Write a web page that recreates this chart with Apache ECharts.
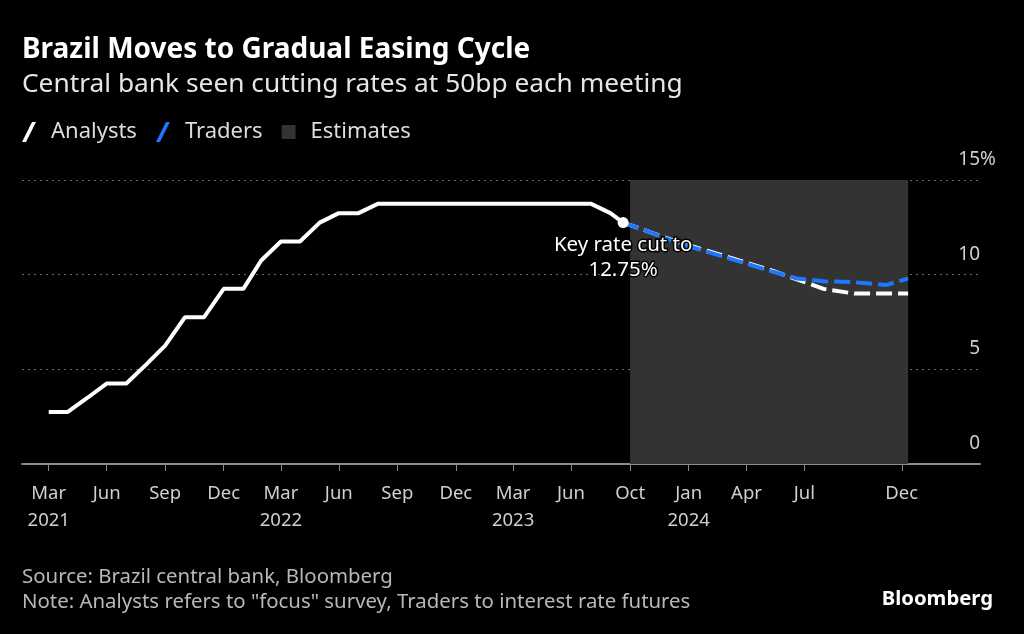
<!DOCTYPE html>
<html>
<head>
<meta charset="utf-8">
<script src="https://cdn.jsdelivr.net/npm/echarts@6/dist/echarts.min.js"></script>
<style>
  html, body { margin: 0; padding: 0; background: #000; }
  #chart { width: 1024px; height: 634px; }
</style>
</head>
<body>
<div id="chart"></div>
<script>
// ---- Data ----
const histDates = ['2021-03-31','2021-04-30','2021-05-31','2021-06-30','2021-07-31','2021-08-31','2021-09-30','2021-10-31','2021-11-30','2021-12-31',
  '2022-01-31','2022-02-28','2022-03-31','2022-04-30','2022-05-31','2022-06-30','2022-07-31','2022-08-31','2022-09-30','2022-10-31','2022-11-30','2022-12-31',
  '2023-01-31','2023-02-28','2023-03-31','2023-04-30','2023-05-31','2023-06-30','2023-07-31','2023-08-31','2023-09-20'];
const histValues = [2.75,2.75,3.5,4.25,4.25,5.25,6.25,7.75,7.75,9.25,
  9.25,10.75,11.75,11.75,12.75,13.25,13.25,13.75,13.75,13.75,13.75,13.75,
  13.75,13.75,13.75,13.75,13.75,13.75,13.75,13.25,12.75];

const meetingDates = ['2023-09-20','2023-11-01','2023-12-13','2024-01-31','2024-03-20','2024-05-08','2024-06-19','2024-07-31','2024-09-18','2024-11-06','2024-12-11'];
const analystsValues = [12.75,12.25,11.75,11.25,10.75,10.25,9.75,9.25,9.0,9.0,9.0];
const tradersValues  = [12.75,12.25,11.7,11.2,10.7,10.2,9.8,9.65,9.6,9.45,9.8];

const estimateStart = '2023-10-01';
const estimateEnd = '2024-12-11';

const xTickDates = ['2021-03-31','2021-06-30','2021-09-30','2021-12-31','2022-03-31','2022-06-30','2022-09-30','2022-12-31',
  '2023-03-31','2023-06-30','2023-10-01','2024-01-01','2024-04-01','2024-07-01','2024-12-01'];
const xTickLabels = ['Mar\n2021','Jun','Sep','Dec','Mar\n2022','Jun','Sep','Dec','Mar\n2023','Jun','Oct','Jan\n2024','Apr','Jul','Dec'];
const yTicks = [0, 5, 10, 15];

const annotationText = 'Key rate cut to\n12.75%';

// ---- Build ----
const t = s => Date.parse(s);
const labelMap = {};
xTickDates.forEach((d, i) => { labelMap[t(d)] = xTickLabels[i]; });

const FONT = 'Noto Sans';

const histData = histDates.map((d, i) => {
  const item = { value: [t(d), histValues[i]] };
  if (i === histDates.length - 1) {
    item.symbol = 'circle';
    item.symbolSize = 11;
    item.label = {
      show: true, position: 'bottom', distance: 5,
      formatter: annotationText,
      color: '#fff', fontSize: 20.5, lineHeight: 25, align: 'center',
      fontFamily: FONT,
      textBorderColor: '#000', textBorderWidth: 3
    };
  }
  return item;
});
const analystsData = meetingDates.map((d, i) => [t(d), analystsValues[i]]);
const tradersData = meetingDates.map((d, i) => [t(d), tradersValues[i]]);

const chart = echarts.init(document.getElementById('chart'), null, { renderer: 'canvas' });

const slant = 'path://M10,0 L14,0 L4,20 L0,20 Z';
const square = 'path://M0,3 L14,3 L14,17 L0,17 Z';

const option = {
  backgroundColor: '#000',
  animation: false,
  textStyle: { fontFamily: FONT },
  title: [
    { text: 'Brazil Moves to Gradual Easing Cycle', left: 22, top: 33, padding: 0,
      textStyle: { color: '#fff', fontSize: 28, fontWeight: 'bold', lineHeight: 34, fontFamily: FONT } },
    { text: 'Central bank seen cutting rates at 50bp each meeting', left: 22, top: 69, padding: 0,
      textStyle: { color: '#e6e6e6', fontSize: 26.3, fontWeight: 'normal', lineHeight: 32, fontFamily: FONT } },
    { text: 'Source: Brazil central bank, Bloomberg', left: 22, top: 565, padding: 0,
      textStyle: { color: '#b8b8b8', fontSize: 20.4, fontWeight: 'normal', lineHeight: 25, fontFamily: FONT } },
    { text: 'Note: Analysts refers to "focus" survey, Traders to interest rate futures', left: 22, top: 590, padding: 0,
      textStyle: { color: '#b8b8b8', fontSize: 20.4, fontWeight: 'normal', lineHeight: 25, fontFamily: FONT } },
    { text: 'Bloomberg', right: 31, top: 587, padding: 0,
      textStyle: { color: '#fff', fontSize: 20.3, fontWeight: 'bold', lineHeight: 25, fontFamily: FONT } }
  ],
  legend: {
    left: 22, top: 121, padding: 0,
    itemWidth: 14, itemHeight: 20, itemGap: 19,
    textStyle: { color: '#ddd', fontSize: 22, fontFamily: FONT, padding: [0, 0, 0, 10] },
    itemStyle: { borderWidth: 0 },
    data: [
      { name: 'Analysts', icon: slant, itemStyle: { color: '#ffffff' } },
      { name: 'Traders', icon: slant, itemStyle: { color: '#1e78ff' } },
      { name: 'Estimates', icon: square, itemStyle: { color: '#333333' } }
    ],
    selectedMode: false
  },
  grid: { left: 22, right: 44, top: 180, bottom: 170, containLabel: false },
  xAxis: {
    type: 'value',
    min: Date.UTC(2021, 1, 17),
    max: Date.UTC(2025, 3, 3),
    axisLine: { show: true, lineStyle: { color: '#8a8a8a', width: 2 } },
    axisTick: { show: true, customValues: xTickDates.map(t), length: 7, lineStyle: { color: '#8a8a8a', width: 1 } },
    axisLabel: {
      customValues: xTickDates.map(t),
      formatter: v => labelMap[v] || '',
      color: '#cfcfcf', fontSize: 18.5, lineHeight: 27, margin: 16, fontFamily: FONT
    },
    splitLine: { show: false }
  },
  yAxis: {
    type: 'value', position: 'right',
    min: 0, max: 15, interval: 5,
    axisLine: { show: false },
    axisTick: { show: false },
    axisLabel: {
      inside: true, margin: 0, verticalAlign: 'bottom', padding: [0, 0, 11, 0],
      formatter: v => v === 15 ? '{n|15}{p|%}' : '{n|' + v + '}',
      rich: {
        n: { color: '#cfcfcf', fontSize: 19, fontFamily: FONT, align: 'left' },
        p: { color: '#cfcfcf', fontSize: 19, fontFamily: FONT, align: 'left', width: 0 }
      }
    },
    splitLine: { show: true, lineStyle: { color: '#6a6a6a', type: [2, 4], width: 1 } }
  },
  series: [
    {
      name: 'Estimates', type: 'line', data: [], z: -1,
      itemStyle: { color: '#333333' },
      markArea: {
        silent: true,
        itemStyle: { color: '#333333', opacity: 1 },
        data: [[{ xAxis: t(estimateStart), yAxis: 0 }, { xAxis: t(estimateEnd), yAxis: 15 }]]
      }
    },
    {
      name: 'Analysts', type: 'line', data: analystsData, showSymbol: false, z: 3,
      itemStyle: { color: '#ffffff' },
      lineStyle: { color: '#ffffff', width: 4, type: [16, 6] }
    },
    {
      name: 'Traders', type: 'line', data: tradersData, showSymbol: false, z: 4,
      itemStyle: { color: '#1e78ff' },
      lineStyle: { color: '#1e78ff', width: 4, type: [16, 6] }
    },
    {
      name: 'Key rate', type: 'line', data: histData, z: 5,
      symbol: 'none', showSymbol: true,
      itemStyle: { color: '#ffffff' },
      lineStyle: { color: '#ffffff', width: 4 }
    }
  ]
};
chart.setOption(option);
</script>
</body>
</html>
